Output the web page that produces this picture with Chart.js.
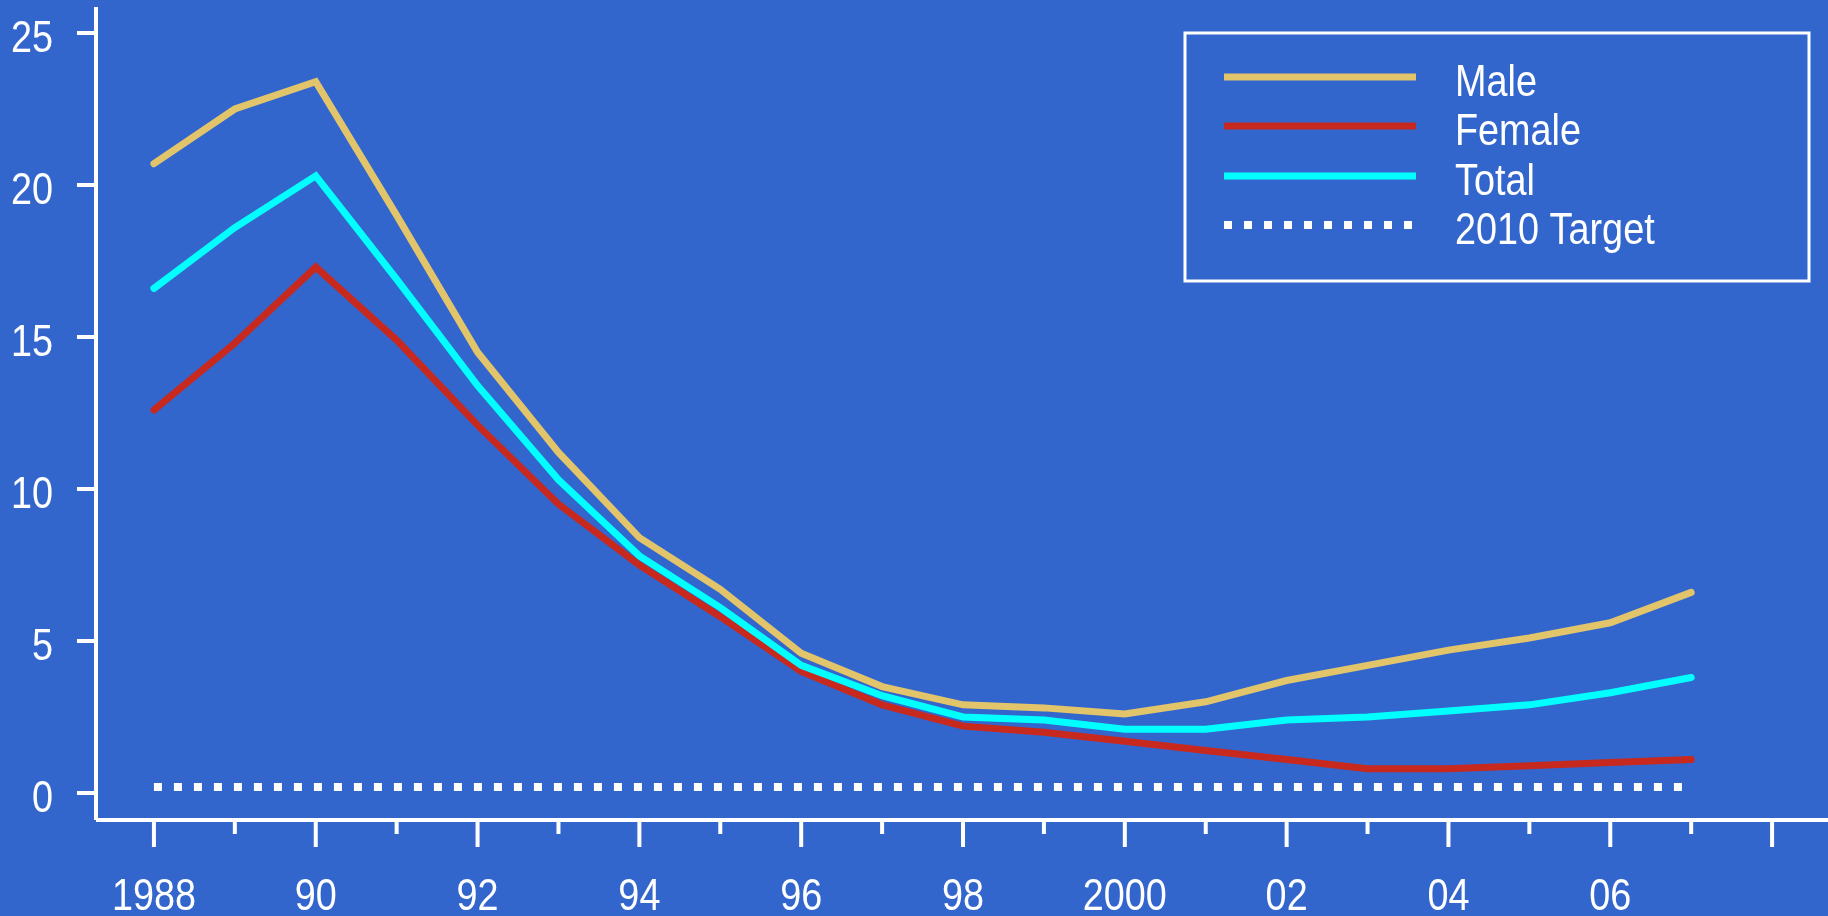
<!DOCTYPE html>
<html lang="en">
<head>
    <meta charset="UTF-8">
    <title>Rates by sex, 1988-2007</title>
    <script src="https://cdn.jsdelivr.net/npm/chart.js"></script>
    <style>
        html, body { margin: 0; padding: 0; background: #3366cc; }
        canvas { display: block; }
    </style>
</head>
<body>
<canvas id="rateChart" width="1828" height="916"></canvas>

<script>
    // Data
    const years = [1988, 1989, 1990, 1991, 1992, 1993, 1994, 1995, 1996, 1997,
                   1998, 1999, 2000, 2001, 2002, 2003, 2004, 2005, 2006, 2007];
    const male   = [20.7, 22.5, 23.4, 19.0, 14.5, 11.2, 8.4, 6.7, 4.6, 3.5,
                    2.9, 2.8, 2.6, 3.0, 3.7, 4.2, 4.7, 5.1, 5.6, 6.6];
    const female = [12.6, 14.8, 17.3, 14.9, 12.1, 9.5, 7.5, 5.8, 4.0, 2.9,
                    2.2, 2.0, 1.7, 1.4, 1.1, 0.8, 0.8, 0.9, 1.0, 1.1];
    const total  = [16.6, 18.6, 20.3, 16.9, 13.4, 10.3, 7.8, 6.1, 4.2, 3.2,
                    2.5, 2.4, 2.1, 2.1, 2.4, 2.5, 2.7, 2.9, 3.3, 3.8];
    const target = [0.2, 0.2, 0.2, 0.2, 0.2, 0.2, 0.2, 0.2, 0.2, 0.2,
                    0.2, 0.2, 0.2, 0.2, 0.2, 0.2, 0.2, 0.2, 0.2, 0.2];

    // Axis ticks
    const xMajorTicks = [1988, 1990, 1992, 1994, 1996, 1998, 2000, 2002, 2004, 2006, 2008];
    const xMajorLabels = ['1988', '90', '92', '94', '96', '98', '2000', '02', '04', '06', ''];
    const xMinorTicks = [1989, 1991, 1993, 1995, 1997, 1999, 2001, 2003, 2005, 2007];
    const yTicks = [0, 5, 10, 15, 20, 25];

    // Colors
    const maleColor = '#e2c46a';
    const femaleColor = '#c8291e';
    const totalColor = '#00ffff';
    const axisColor = '#ffffff';

    // Narrow sans: Liberation Sans squeezed horizontally
    const textFont = '45px "Liberation Sans", Arial, sans-serif';
    const narrow = 0.84;

    function narrowText(ctx, text, x, y, align) {
        ctx.save();
        ctx.translate(x, y);
        ctx.scale(narrow, 1);
        ctx.font = textFont;
        ctx.fillStyle = axisColor;
        ctx.textAlign = align;
        ctx.textBaseline = 'alphabetic';
        ctx.fillText(text, 0, 0);
        ctx.restore();
    }

    function points(values) {
        return years.map((yr, i) => ({ x: yr, y: values[i] }));
    }

    // R style axes: separate lines with outward ticks and labels
    const axesPlugin = {
        id: 'axesPlugin',
        afterDraw(chart) {
            const ctx = chart.ctx;
            const area = chart.chartArea;
            const xs = chart.scales.x;
            const ys = chart.scales.y;
            ctx.save();
            ctx.strokeStyle = axisColor;
            ctx.lineWidth = 4;
            ctx.lineCap = 'butt';
            ctx.beginPath();
            ctx.moveTo(area.left, area.top);
            ctx.lineTo(area.left, area.bottom);
            ctx.moveTo(area.left, area.bottom);
            ctx.lineTo(area.right, area.bottom);
            yTicks.forEach(v => {
                const py = ys.getPixelForValue(v);
                ctx.moveTo(area.left - 19, py);
                ctx.lineTo(area.left, py);
            });
            xMajorTicks.forEach(v => {
                const px = xs.getPixelForValue(v);
                ctx.moveTo(px, area.bottom);
                ctx.lineTo(px, area.bottom + 27);
            });
            xMinorTicks.forEach(v => {
                const px = xs.getPixelForValue(v);
                ctx.moveTo(px, area.bottom);
                ctx.lineTo(px, area.bottom + 14);
            });
            ctx.stroke();
            ctx.restore();

            yTicks.forEach(v => {
                narrowText(ctx, String(v), area.left - 43, ys.getPixelForValue(v) + 19, 'right');
            });
            xMajorTicks.forEach((v, i) => {
                narrowText(ctx, xMajorLabels[i], xs.getPixelForValue(v), area.bottom + 90, 'center');
            });
        }
    };

    // Boxed legend in the upper right
    const legendPlugin = {
        id: 'legendPlugin',
        afterDraw(chart) {
            const ctx = chart.ctx;
            const box = { left: 1185, top: 33, right: 1809, bottom: 281 };
            const rows = [77, 126, 176, 225];
            ctx.save();
            ctx.strokeStyle = axisColor;
            ctx.lineWidth = 3;
            ctx.strokeRect(box.left, box.top, box.right - box.left, box.bottom - box.top);
            chart.data.datasets.forEach((ds, i) => {
                const y = rows[i];
                ctx.beginPath();
                ctx.strokeStyle = ds.borderColor;
                ctx.lineWidth = ds.borderWidth;
                ctx.lineCap = 'butt';
                ctx.setLineDash(ds.borderDash || []);
                ctx.moveTo(1224, y);
                ctx.lineTo(1416, y);
                ctx.stroke();
                ctx.setLineDash([]);
                narrowText(ctx, ds.label, 1455, y + 19, 'left');
            });
            ctx.restore();
        }
    };

    const ctx = document.getElementById('rateChart').getContext('2d');
    const rateChart = new Chart(ctx, {
        type: 'line',
        data: {
            datasets: [
                { label: 'Male', data: points(male), borderColor: maleColor, borderWidth: 7, order: 3 },
                { label: 'Female', data: points(female), borderColor: femaleColor, borderWidth: 7, order: 2 },
                { label: 'Total', data: points(total), borderColor: totalColor, borderWidth: 7, order: 1 },
                { label: '2010 Target', data: points(target), borderColor: axisColor, borderWidth: 8,
                  borderDash: [8, 12], borderCapStyle: 'butt', order: 0 }
            ]
        },
        options: {
            responsive: false,
            animation: false,
            layout: { padding: { top: 7, left: 96, right: 0, bottom: 96 } },
            elements: {
                point: { radius: 0 },
                line: { tension: 0, borderCapStyle: 'round', borderJoinStyle: 'miter' }
            },
            plugins: {
                legend: { display: false },
                tooltip: { enabled: false }
            },
            scales: {
                x: {
                    type: 'linear',
                    display: false,
                    min: 1987.284,
                    max: 2008.691
                },
                y: {
                    display: false,
                    min: -0.888,
                    max: 25.855
                }
            }
        },
        plugins: [axesPlugin, legendPlugin]
    });
</script>

</body>
</html>
